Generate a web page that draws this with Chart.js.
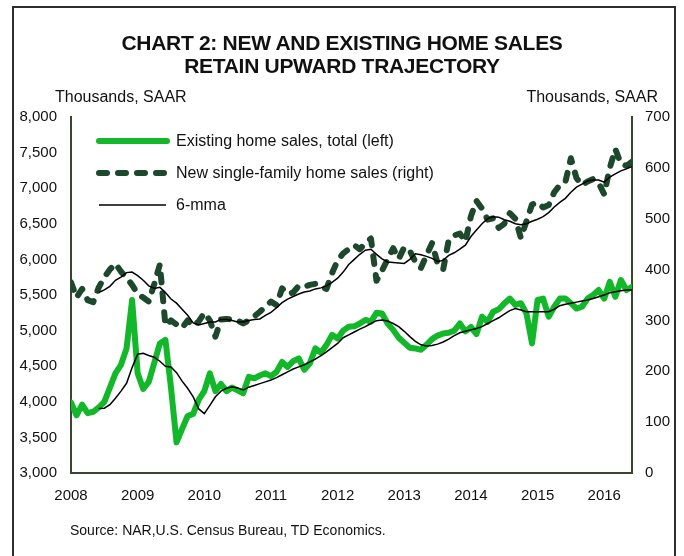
<!DOCTYPE html>
<html>
<head>
<meta charset="utf-8">
<title>Chart 2: New and existing home sales</title>
<script src="https://cdn.jsdelivr.net/npm/chart.js@4.4.1/dist/chart.umd.min.js"></script>
<style>
  body { margin: 0; background: #fff; font-family: "Liberation Sans", Arial, sans-serif; color: #111; }
  #wrap { position: relative; width: 684px; height: 556px; overflow: hidden; }
  #frame { position: absolute; left: 12px; top: 6px; width: 660px; height: 620px; border: 2px solid #2e2e2e; }
  #chartBox { position: absolute; left: 0; top: 0; width: 684px; height: 556px; }
  #title { position: absolute; left: 0; width: 684px; top: 31px; text-align: center; font-weight: bold; font-size: 21px; line-height: 23px; letter-spacing: -0.3px; }
  .unit { position: absolute; top: 88px; font-size: 16px; line-height: 18px; }
  #legend { position: absolute; left: 96px; top: 125px; font-size: 16px; }
  #legend div { height: 32px; display: flex; align-items: center; }
  #legend svg { margin-right: 6px; }
  #source { position: absolute; left: 70px; top: 521px; font-size: 14px; line-height: 18px; }
</style>
</head>
<body>
<div id="wrap">
  <div id="frame"></div>
  <div id="chartBox"><canvas id="salesChart" width="684" height="556"></canvas></div>
  <div id="title">CHART 2: NEW AND EXISTING HOME SALES<br>RETAIN UPWARD TRAJECTORY</div>
  <div class="unit" style="left:55px">Thousands, SAAR</div>
  <div class="unit" style="right:26px">Thousands, SAAR</div>
  <div id="legend">
    <div><svg width="74" height="10"><line x1="3" y1="5" x2="71" y2="5" stroke="#12b829" stroke-width="6" stroke-linecap="round"/></svg>Existing home sales, total (left)</div>
    <div><svg width="74" height="10"><line x1="3" y1="5" x2="71" y2="5" stroke="#1d482b" stroke-width="6" stroke-linecap="round" stroke-dasharray="8 11"/></svg>New single-family home sales (right)</div>
    <div><svg width="74" height="10"><line x1="3" y1="5" x2="70" y2="5" stroke="#000" stroke-width="1.5"/></svg>6-mma</div>
  </div>
  <div id="source">Source: NAR,U.S. Census Bureau, TD Economics.</div>
</div>
<script>
// monthly, index 0 = first month on the axis
const yearLabels = ["2008", "2009", "2010", "2011", "2012", "2013", "2014", "2015", "2016"];

const existingSales = [
  3990, 3810, 3960, 3840, 3860, 3920, 4000, 4200, 4400, 4520,
  4750, 5430, 4400, 4180, 4280, 4550, 4820, 4870, 4200, 3430,
  3620, 3800, 3830, 4030, 4150, 4400, 4150, 4250, 4150, 4200,
  4160, 4120, 4350, 4330, 4370, 4400, 4360, 4420, 4560, 4490,
  4570, 4610, 4450, 4540, 4750, 4690, 4800, 4940, 4890, 5000,
  5055, 5060, 5100, 5150, 5125, 5250, 5240, 5100, 5010, 4900,
  4830, 4760, 4750, 4730, 4800, 4880, 4930, 4960, 4970, 5000,
  5100, 4990, 5050, 4950, 5195, 5125, 5265, 5300, 5380, 5450,
  5360, 5385, 5240, 4820, 5430, 5450, 5195, 5335, 5450, 5450,
  5385, 5310, 5335, 5450, 5500, 5570, 5450, 5685, 5475, 5710,
  5570, 5615
];

const existing6mma = [
  null, null, null, null, null, 3905, 3910, 3960, 4050, 4150,
  4260, 4480, 4670, 4680, 4650, 4625, 4570, 4500, 4490, 4410,
  4290, 4190, 4070, 3900, 3835, 3950, 4070, 4150, 4190, 4210,
  4195, 4165, 4205, 4230, 4255, 4280, 4305, 4340, 4380, 4420,
  4460, 4490, 4520, 4560, 4600, 4650, 4700, 4760, 4820, 4900,
  4940, 4980, 5020, 5055, 5100, 5140, 5150, 5135, 5100, 5055,
  4990, 4915, 4850, 4800, 4785, 4790, 4810, 4840, 4880, 4930,
  4970, 4990, 5010, 5030, 5055, 5100, 5140, 5180, 5230, 5280,
  5310, 5290, 5265, 5265, 5265, 5265, 5265, 5300, 5350, 5370,
  5385, 5400, 5415, 5430, 5450, 5475, 5500, 5530, 5545, 5560,
  5570, 5570
];

const newSales = [
  375, 345, 362, 340, 336, 365, 385, 400, 412, 396,
  384, 370, 352, 345, 337, 372, 410, 290, 300, 292,
  285, 300, 289, 298, 315, 300, 268, 302, 303, 302,
  300, 294, 300, 308, 317, 327, 337, 330, 363, 352,
  355, 368, 366, 370, 372, 366, 362, 393, 418, 432,
  440, 448, 440, 452, 461, 378, 398, 420, 442, 421,
  444, 437, 415, 403, 428, 452, 412, 400, 458, 467,
  471, 455, 505, 535, 520, 498, 501, 482, 490, 511,
  500, 462, 495, 528, 532, 522, 527, 552, 566, 572,
  619, 580, 566, 573, 578, 570, 548, 600, 637, 608,
  604, 612
];

const new6mma = [
  null, null, null, null, null, 355, 360, 367, 379, 385,
  394, 395, 388, 379, 368, 363, 365, 355, 342, 334,
  322, 310, 295, 291, 294, 297, 297, 302, 302, 300,
  297, 297, 300, 302, 303, 310, 316, 325, 335, 342,
  347, 352, 356, 358, 362, 364, 368, 375, 383, 395,
  410, 420, 430, 438, 440, 430, 421, 415, 414, 413,
  412, 420, 431, 429, 426, 422, 416, 418, 428, 433,
  440, 448, 465, 478, 490, 500, 504, 503, 498, 495,
  490, 488, 490, 495, 499, 504, 512, 523, 532, 540,
  552, 562, 568, 574, 576, 576, 572, 582, 588, 594,
  598, 603
];

const months = existingSales.map((v, i) => i);
const toXY = arr => arr.map((v, i) => ({ x: months[i], y: v }));

const axisColor = "#39452f";
const tickFont = { family: "'Liberation Sans', Arial, sans-serif", size: 15 };

new Chart(document.getElementById("salesChart"), {
  type: "line",
  data: {
    datasets: [
      {
        label: "6-mma",
        data: toXY(existing6mma),
        yAxisID: "yLeft",
        borderColor: "#000",
        borderWidth: 1.5,
        order: 0,
      },
      {
        label: "6-mma (new)",
        data: toXY(new6mma),
        yAxisID: "yRight",
        borderColor: "#000",
        borderWidth: 1.5,
        order: 0,
      },
      {
        label: "Existing home sales, total (left)",
        data: toXY(existingSales),
        yAxisID: "yLeft",
        borderColor: "#12b829",
        borderWidth: 6,
        borderJoinStyle: "round",
        borderCapStyle: "round",
        order: 2,
      },
      {
        label: "New single-family home sales (right)",
        data: toXY(newSales),
        yAxisID: "yRight",
        borderColor: "#1d482b",
        borderWidth: 6,
        borderDash: [8, 11],
        borderCapStyle: "round",
        borderJoinStyle: "round",
        order: 1,
      },
    ],
  },
  options: {
    responsive: false,
    animation: false,
    events: [],
    elements: { point: { radius: 0 }, line: { tension: 0 } },
    layout: { padding: { left: 0, right: 0, top: 117, bottom: 0 } },
    plugins: { legend: { display: false }, tooltip: { enabled: false } },
    scales: {
      x: {
        type: "linear",
        min: 0,
        max: existingSales.length - 1,
        grid: { display: false, drawTicks: false },
        border: { display: true, color: axisColor, width: 2 },
        afterBuildTicks: scale => {
          scale.ticks = yearLabels.map((y, k) => ({ value: k * 12 }));
        },
        afterFit: scale => { scale.height = 83; },
        ticks: {
          autoSkip: false,
          maxRotation: 0,
          padding: 14,
          color: "#111",
          font: tickFont,
          callback: v => yearLabels[Math.round(v / 12)],
        },
      },
      yLeft: {
        position: "left",
        min: 3000,
        max: 8000,
        grid: { display: false, drawTicks: false },
        border: { display: true, color: axisColor, width: 2 },
        afterFit: scale => { scale.width = 71; },
        ticks: {
          stepSize: 500,
          padding: 14,
          color: "#111",
          font: tickFont,
          callback: v => v.toLocaleString("en-US"),
        },
      },
      yRight: {
        position: "right",
        min: 0,
        max: 700,
        grid: { display: false, drawTicks: false },
        border: { display: true, color: axisColor, width: 2 },
        afterFit: scale => { scale.width = 52; },
        ticks: {
          stepSize: 100,
          padding: 13,
          color: "#111",
          font: tickFont,
        },
      },
    },
  },
});
</script>
</body>
</html>
